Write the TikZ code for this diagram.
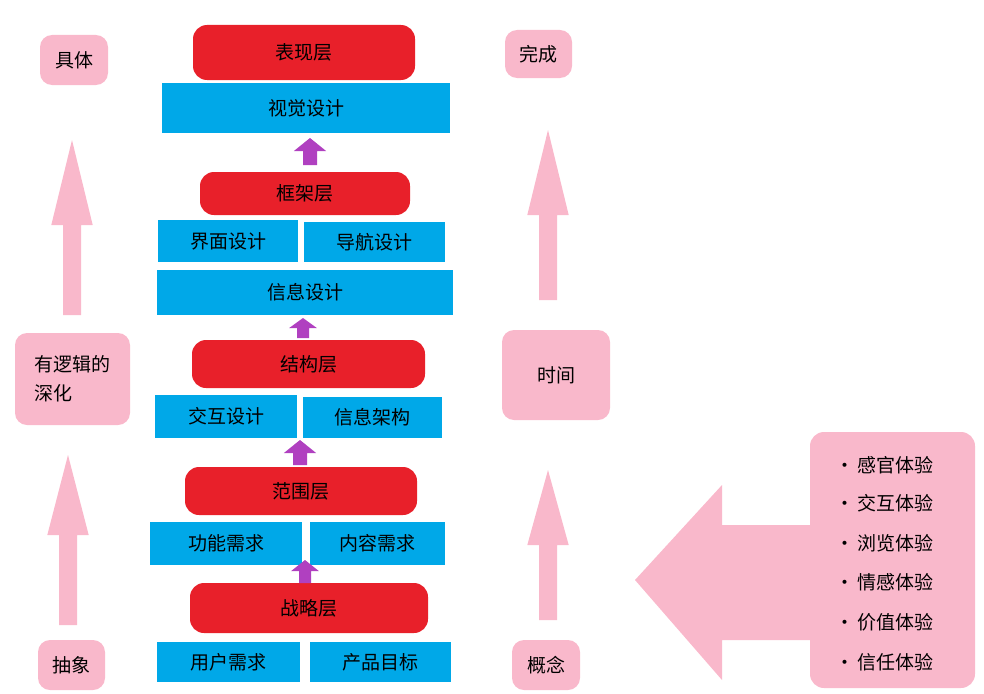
\documentclass[tikz,border=0pt]{standalone}
\usepackage{fontspec}
\setmainfont{Noto Sans CJK SC}
\definecolor{lred}{HTML}{E8202A}
\definecolor{lblue}{HTML}{00A8E8}
\definecolor{lpink}{HTML}{F9B8CB}
\definecolor{lpurp}{HTML}{B040C0}
\begin{document}
\begin{tikzpicture}[x=1pt,y=-1pt,
  txt/.style={font=\fontsize{19}{23}\selectfont},
  redbox/.style={fill=lred,rounded corners=14pt,txt},
  bluebox/.style={fill=lblue,txt},
  pinkbox/.style={fill=lpink,rounded corners=12pt,txt}]
\useasboundingbox (0,0) rectangle (984,693);
\newcommand{\rbox}[6]{\path[#1] (#2,#3) rectangle (#4,#5) node[midway,txt] {#6};}
% red layers
\rbox{redbox}{193}{25}{415}{80}{表现层}
\rbox{redbox}{200}{172}{410}{215}{框架层}
\rbox{redbox}{192}{340}{425}{388}{结构层}
\rbox{redbox}{185}{467}{417}{515}{范围层}
\rbox{redbox}{190}{583}{428}{633}{战略层}
% blue
\rbox{bluebox}{162}{83}{450}{133}{视觉设计}
\rbox{bluebox}{158}{220}{298}{262}{界面设计}
\rbox{bluebox}{304}{222}{445}{262}{导航设计}
\rbox{bluebox}{157}{270}{453}{315}{信息设计}
\rbox{bluebox}{155}{395}{297}{438}{交互设计}
\rbox{bluebox}{303}{397}{442}{438}{信息架构}
\rbox{bluebox}{150}{522}{302}{565}{功能需求}
\rbox{bluebox}{310}{522}{445}{565}{内容需求}
\rbox{bluebox}{157}{642}{300}{682}{用户需求}
\rbox{bluebox}{310}{642}{451}{682}{产品目标}
% pink labels
\rbox{pinkbox}{40}{35}{108}{85}{具体}
\rbox{pinkbox}{505}{30}{572}{78}{完成}
\path[pinkbox] (15,333) rectangle (130,425) node[midway,txt,align=left] {有逻辑的\\[6pt]深化};
\rbox{pinkbox}{502}{330}{610}{420}{时间}
\rbox{pinkbox}{38}{640}{105}{690}{抽象}
\rbox{pinkbox}{512}{640}{580}{690}{概念}
% up arrows pink
\newcommand{\uparr}[6]{\fill[#1] (#2-#5,#4) -- (#2+#5,#4) -- (#2+#5,#3+#6) -- (#2+2.3*#5,#3+#6) -- (#2,#3) -- (#2-2.3*#5,#3+#6) -- (#2-#5,#3+#6) -- cycle;}
\uparr{lpink}{72}{140}{315}{9}{85}
\uparr{lpink}{68}{455}{625}{9}{80}
\uparr{lpink}{548}{130}{300}{9}{85}
\uparr{lpink}{548}{470}{620}{9}{75}
% purple arrows
\uparr{lpurp}{310}{138}{165}{7}{13}
\uparr{lpurp}{303}{318}{338}{6}{10}
\uparr{lpurp}{300}{440}{465}{7}{13}
\uparr{lpurp}{305}{560}{583}{6}{11}
% big left arrow
\fill[lpink] (815,525) -- (722,525) -- (722,485) -- (635,580) -- (722,680) -- (722,640) -- (815,640) -- cycle;
% right box
\path[fill=lpink,rounded corners=14pt] (810,432) rectangle (975,688);
\foreach \t/\y in {感官体验/465,交互体验/503,浏览体验/543,情感体验/582,价值体验/622,信任体验/662}
  \node[txt,anchor=west] at (832,\y) {·\,\t};
\end{tikzpicture}
\end{document}
